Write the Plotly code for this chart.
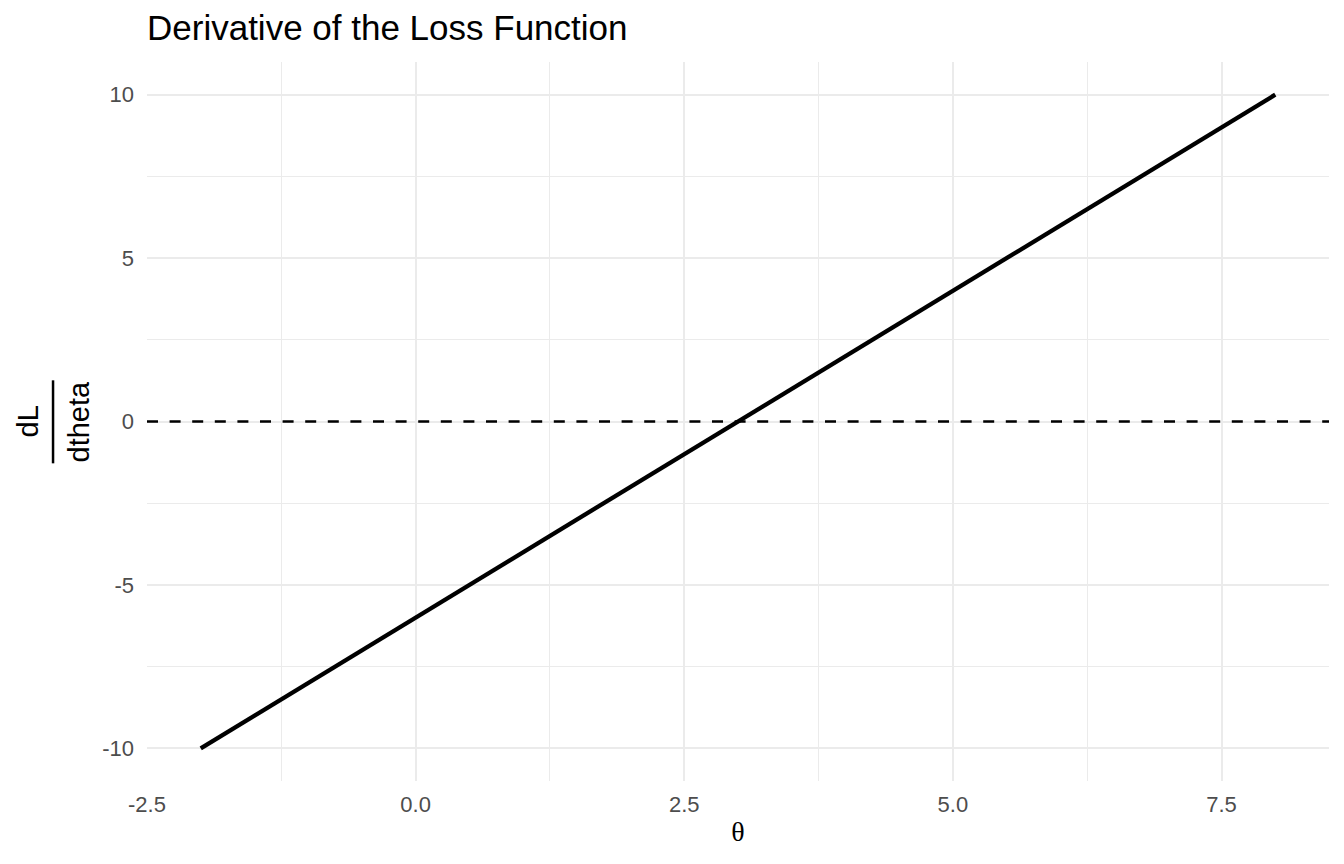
import plotly.graph_objects as go

theta = [-2, 0, 3, 5, 8]
dL = [-10, -6, 0, 4, 10]
x_ticks = [-2.5, 0.0, 2.5, 5.0, 7.5]
x_tick_labels = ["-2.5", "0.0", "2.5", "5.0", "7.5"]
y_ticks = [-10, -5, 0, 5, 10]
y_tick_labels = ["-10", "-5", "0", "5", "10"]
hline_value = 0

W, H = 1328, 848
L, R, T, B = 139, 6.5, 54.35, 75.35
grid = "#EBEBEB"
font = "Liberation Sans, Arial, sans-serif"

fig = go.Figure()
fig.add_trace(go.Scatter(x=theta, y=dL, mode="lines",
                         line=dict(color="black", width=4.3), showlegend=False))

fig.add_shape(type="line", xref="paper", yref="y", x0=0, x1=1,
              y0=hline_value, y1=hline_value,
              line=dict(color="black", width=2.6, dash="11px,11.6px"))

fig.update_layout(
    width=W, height=H,
    margin=dict(l=L, r=R, t=T, b=B),
    plot_bgcolor="white", paper_bgcolor="white",
    font=dict(family=font, color="#4D4D4D", size=22),
    title=dict(text="Derivative of the Loss Function", x=0, xref="paper",
               xanchor="left", y=1, yref="container", yanchor="top", pad=dict(t=7),
               font=dict(size=35, color="black", family=font)),
    xaxis=dict(range=[-2.5, 8.5], tickvals=x_ticks, ticktext=x_tick_labels,
               showgrid=True, gridcolor=grid, gridwidth=2.2, zeroline=False,
               showline=False, ticks="", ticklabelstandoff=8,
               minor=dict(showgrid=True, gridcolor=grid, gridwidth=1.1,
                          tick0=-1.25, dtick=2.5),
               title=dict(text="θ", standoff=5,
                          font=dict(family="Liberation Serif, serif", size=28, color="black"))),
    yaxis=dict(range=[-11, 11], tickvals=y_ticks, ticktext=y_tick_labels,
               showgrid=True, gridcolor=grid, gridwidth=2.2, zeroline=False,
               showline=False, ticks="", ticklabelstandoff=12,
               minor=dict(showgrid=True, gridcolor=grid, gridwidth=1.1,
                          tick0=-7.5, dtick=5)),
)

# fraction-style y-axis label  dL / dtheta
fig.add_annotation(text="dL", xref="paper", yref="y", x=0, y=0, xshift=-120,
                   xanchor="center", yanchor="middle",
                   textangle=-90, showarrow=False,
                   font=dict(size=29, color="black", family=font))
fig.add_annotation(text="dtheta", xref="paper", yref="y", x=0, y=0, xshift=-69,
                   xanchor="center", yanchor="middle",
                   textangle=-90, showarrow=False,
                   font=dict(size=29, color="black", family=font))
fig.add_shape(type="line", xref="paper", yref="y",
              x0=-94 / (W - L - R), x1=-94 / (W - L - R), y0=1.26, y1=-1.28,
              line=dict(color="black", width=2.5))

fig.write_html("out.html")
